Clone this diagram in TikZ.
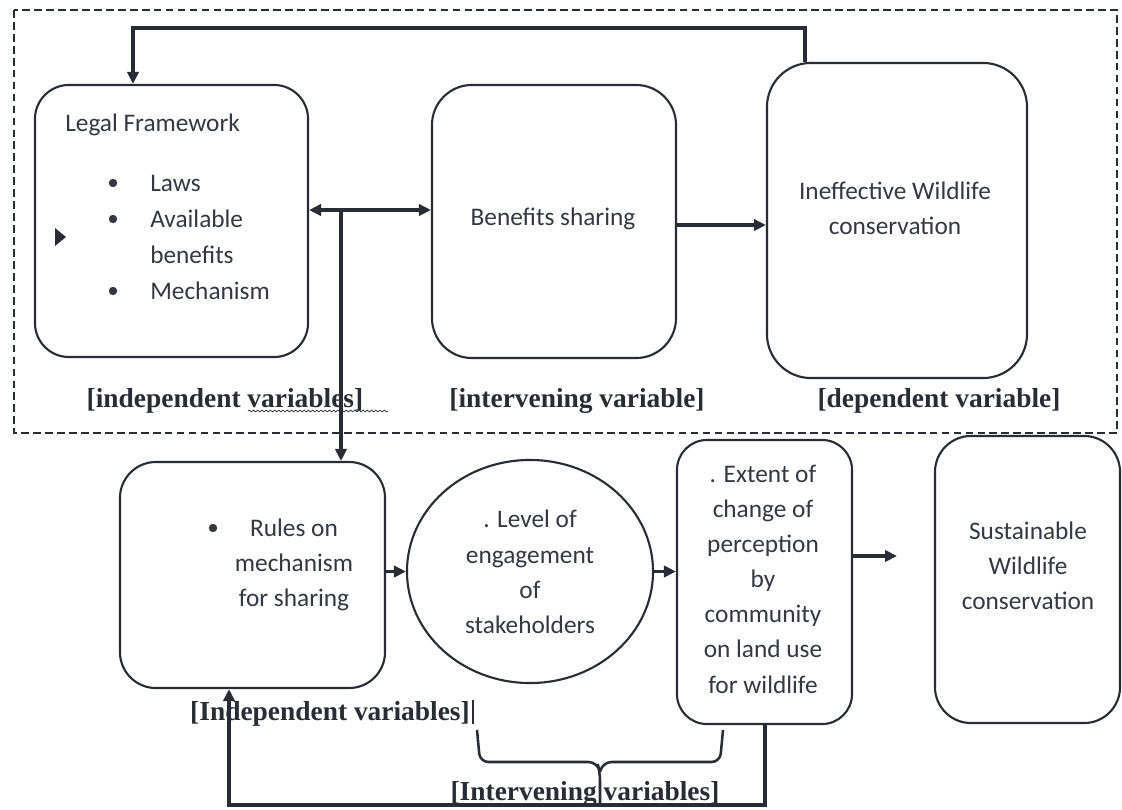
\documentclass[tikz,border=0pt]{standalone}
\usepackage{fontspec}
\setmainfont{Liberation Serif}
\newfontfamily\calfont{Carlito}
\usetikzlibrary{arrows.meta,shapes.geometric,decorations.pathmorphing}
\definecolor{ink}{RGB}{40,44,52}
\definecolor{tcol}{RGB}{52,56,66}
\begin{document}
\begin{tikzpicture}[x=0.025cm,y=-0.025cm,
  box/.style={draw=ink,line width=1.5pt,rounded corners=#1,inner sep=0pt},
  box/.default=0.85cm,
  ell/.style={draw=ink,line width=1.5pt,ellipse,inner sep=0pt},
  arr/.style={draw=ink,line width=2.6pt,-{Triangle[length=8.5pt,width=8pt]}},
  bodytext/.style={font=\calfont\fontsize{18}{25}\selectfont,text=tcol,align=center,inner sep=0pt},
  lab/.style={font=\bfseries\fontsize{19.5}{23}\selectfont,text=ink,inner sep=0pt},
  dot/.style={circle,fill=tcol,inner sep=0pt,minimum size=0.21cm},
]
\useasboundingbox (0,0) rectangle (1122,809);
\fill[white] (0,0) rectangle (1122,809);

% dashed frame
\draw[ink,line width=1pt,dash pattern=on 5.5pt off 3pt] (14,10) rectangle (1117,433);

% boxes
\node[box=0.85cm,minimum width=6.825cm,minimum height=6.8cm] (legal) at (171.5,221) {};
\node[box=1cm,minimum width=6.1cm,minimum height=6.825cm] (benef) at (554,221.5) {};
\node[box=1.1cm,minimum width=6.5cm,minimum height=7.875cm] (ineff) at (897,220.5) {};
\node[box=0.9cm,minimum width=6.625cm,minimum height=5.65cm] (rules) at (252.5,575) {};
\node[ell,minimum width=6.15cm,minimum height=5.575cm] (level) at (530,571.5) {};
\node[box=0.75cm,minimum width=4.375cm,minimum height=7.1cm] (extent) at (764.5,582) {};
\node[box=0.9cm,minimum width=4.625cm,minimum height=7.175cm] (sust) at (1027.5,579.5) {};

% legal framework text
\node[bodytext,anchor=base west] (lft) at (65,131) {Legal Framework};
\node[dot] (d1) at (113,183) {};
\node[dot] (d2) at (113,219) {};
\node[dot] (d3) at (113,291) {};
\node[bodytext,anchor=base west] (i1) at (150,191) {Laws};
\node[bodytext,anchor=base west] (i2) at (150,227) {Available};
\node[bodytext,anchor=base west] (i3) at (150,263) {benefits};
\node[bodytext,anchor=base west] (i4) at (150,299) {Mechanism};
\fill[ink] (55,228) -- (66,237) -- (55,246) -- cycle;

\node[bodytext] (bt) at (553,219) {Benefits sharing};
\node[bodytext] (it) at (895,208) {Ineffective Wildlife\\conservation};

\node[dot] (d4) at (213,528) {};
\node[bodytext] (rt) at (294,565) {Rules on\\mechanism\\for sharing};
\node[bodytext] (lt) at (530,572) {. Level of\\engagement\\of\\stakeholders};
\node[bodytext] (et) at (763,579) {. Extent of\\change of\\perception\\by\\community\\on land use\\for wildlife};
\node[bodytext] (st) at (1028,566) {Sustainable\\Wildlife\\conservation};

% labels
\node[lab,anchor=base] (l1) at (225,407) {[independent variables]};
\node[lab,anchor=base] (l2) at (577,407) {[intervening variable]};
\node[lab,anchor=base] (l3) at (939,407) {[dependent variable]};
\node[lab,anchor=base] (l4) at (330,720) {[Independent variables]};
\node[lab,anchor=base] (l5) at (585,800) {[Intervening variables]};
\draw[ink,decorate,decoration={snake,amplitude=0.6pt,segment length=3pt},line width=0.5pt] (248,411) -- (388,411);
\draw[ink,line width=0.8pt] (473,700) -- (473,724);

% connectors
\coordinate (ta) at (805,28);
\coordinate (tb) at (133,28);
\draw[arr,line width=3pt] (ineff.north -| ta) -- (ta) -- (tb) -- (legal.north -| tb);

\coordinate (dj) at (341,210);
\draw[arr,{Triangle[length=8.5pt,width=8pt]}-{Triangle[length=8.5pt,width=8pt]}] (legal.east |- dj) -- (benef.west |- dj);
\draw[arr,line width=2.2pt] (dj) -- (rules.north -| dj);

\coordinate (bi) at (700,225);
\draw[arr] (benef.east |- bi) -- (ineff.west |- bi);

\draw[arr] (rules.east |- level.west) -- (level.west);
\draw[arr] (level.east) -- (extent.west |- level.east);
\coordinate (fe) at (897,556);
\draw[arr] (extent.east |- fe) -- (fe);

\coordinate (ba) at (765,805);
\coordinate (bb) at (229,805);
\draw[arr,line width=2.2pt] (extent.south -| ba) -- (ba) -- (bb) -- (rules.south -| bb);

% brace
\draw[ink,line width=1.8pt,rounded corners=6pt] (477,730) -- (480,762) -- (597,762) -- (600,772) -- (600,805);
\draw[ink,line width=1.8pt,rounded corners=6pt] (600,772) -- (603,762) -- (720,762) -- (723,730);
\end{tikzpicture}
\end{document}
